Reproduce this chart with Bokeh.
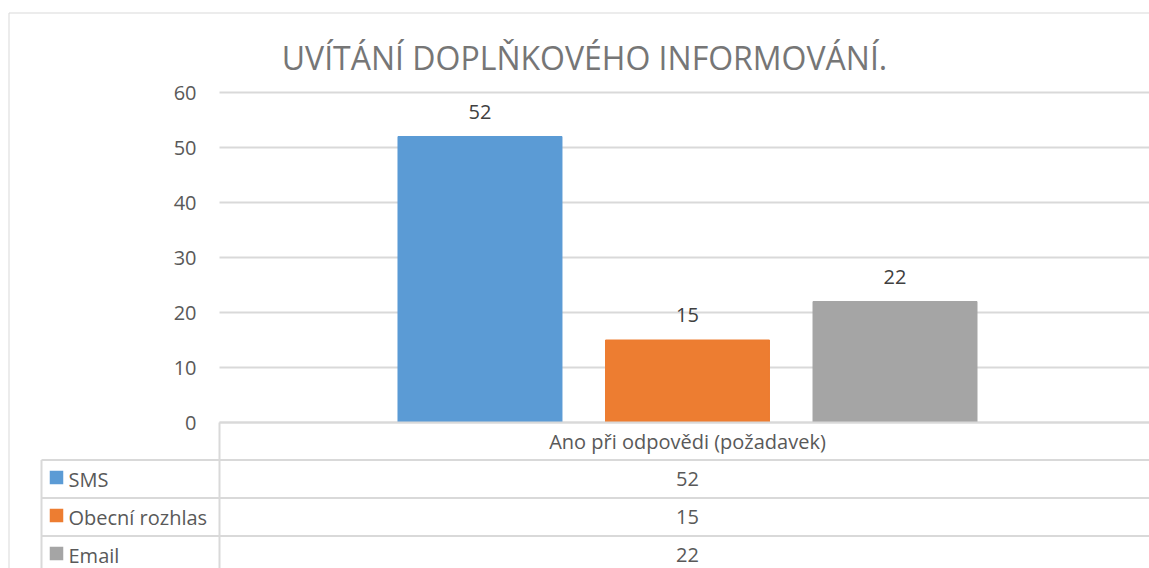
from bokeh.plotting import figure
from bokeh.models import Range1d, LinearAxis, FixedTicker, Label, ColumnDataSource
from bokeh.core.properties import value
from bokeh.embed import file_html
from bokeh.resources import INLINE

# ---------------- data ----------------
title_text = "UVÍTÁNÍ DOPLŇKOVÉHO INFORMOVÁNÍ."
category = "Ano při odpovědi (požadavek)"
series = ["SMS", "Obecní rozhlas", "Email"]
values = [52, 15, 22]
colors = ["#5B9BD5", "#ED7D31", "#A5A5A5"]
y_ticks = [0, 10, 20, 30, 40, 50, 60]

# ---------------- layout (page pixels) ----------------
W, H = 1149, 568
PAGE = 0
ZERO_PX, UNIT_PX = 422, 5.5          # y=0 position, px per unit
CAT_CENTER_PX, CAT_PX = 687, 936     # category centre and width in px
GRID = "#d9d9d9"
FONT = "Open Sans"


def X(px):
    return (px - CAT_CENTER_PX) / CAT_PX


def Y(py):
    return (ZERO_PX - py) / UNIT_PX


x_lo, x_hi = X(PAGE), X(PAGE + W)
y_lo, y_hi = Y(PAGE + H), Y(PAGE)

p = figure(width=W, height=H,
           x_range=Range1d(x_lo, x_hi), y_range=Range1d(y_lo, y_hi),
           x_axis_type=None, y_axis_type=None,
           toolbar_location=None, output_backend="svg",
           min_border=0, outline_line_color=None)
p.grid.visible = False

# outer chart border (left and top visible)
p.segment(x0=[X(8.5), X(8.5)], y0=[Y(12.5), Y(12.5)],
          x1=[X(8.5), x_hi + 1], y1=[y_lo - 1, Y(12.5)],
          line_color=GRID, line_width=1)

# gridlines from tick values
p.segment(x0=[-0.5] * len(y_ticks), x1=[x_hi + 1] * len(y_ticks),
          y0=y_ticks, y1=y_ticks, line_color=GRID, line_width=2)

# bars (clustered around category centre 0)
n = len(series)
step = 0.2217
offsets = [(i - (n - 1) / 2) * step for i in range(n)]
bar_src = ColumnDataSource(dict(x=offsets, top=values, color=colors,
                                label=[str(v) for v in values]))
p.vbar(x="x", top="top", bottom=0, width=0.1752, color="color", source=bar_src)

# value labels above bars
p.text(x="x", y="top", text="label", source=bar_src, y_offset=-25,
       text_align="center", text_baseline="middle",
       text_font=value(FONT), text_font_size="20px", text_color="#404040")

# redraw zero line above bars
p.segment(x0=[-0.5], x1=[x_hi + 1], y0=[0], y1=[0], line_color=GRID, line_width=2)

# data table
row_lines_py = [459.5, 497.5, 535.5]
p.segment(x0=[X(41)] * 3, x1=[x_hi + 1] * 3,
          y0=[Y(v) for v in row_lines_py], y1=[Y(v) for v in row_lines_py],
          line_color=GRID, line_width=2)
p.segment(x0=[-0.5, X(41)], x1=[-0.5, X(41)],
          y0=[0, Y(459.5)], y1=[y_lo - 1, y_lo - 1],
          line_color=GRID, line_width=2)

# header row: category name
p.text(x=[0], y=[Y(440.5)], text=[category],
       text_align="center", text_baseline="middle",
       text_font=value(FONT), text_font_size="20px", text_color="#595959")

row_centers = [Y(478.5 + 38 * i) for i in range(n)]
tbl_src = ColumnDataSource(dict(
    xv=[0] * n, y=row_centers, val=[str(v) for v in values],
    xs=[X(56)] * n, ys=[r + 1.5 / UNIT_PX for r in row_centers],
    xt=[X(68)] * n, name=series, color=colors))
p.text(x="xv", y="y", text="val", source=tbl_src,
       text_align="center", text_baseline="middle",
       text_font=value(FONT), text_font_size="20px", text_color="#595959")
p.scatter(x="xs", y="ys", marker="square", size=13.5, color="color",
          line_color=None, source=tbl_src)
p.text(x="xt", y="y", text="name", source=tbl_src,
       text_align="left", text_baseline="middle",
       text_font=value(FONT), text_font_size="20px", text_color="#595959")

# y axis placed at the plot's left edge
yaxis = LinearAxis(fixed_location=-0.5, ticker=FixedTicker(ticks=y_ticks),
                   axis_line_color=None, major_tick_line_color=None,
                   minor_tick_line_color=None, major_tick_out=0, major_tick_in=0,
                   minor_tick_out=0, minor_tick_in=0,
                   major_label_standoff=23,
                   major_label_text_font=FONT, major_label_text_font_size="20px",
                   major_label_text_color="#595959")
p.add_layout(yaxis, "left")

# title
p.add_layout(Label(x=X(584), y=Y(57), text=title_text,
                   text_align="center", text_baseline="middle",
                   text_font=FONT, text_font_size="32px", text_color="#767676"))

open("out.html", "w").write(file_html(p, INLINE))
